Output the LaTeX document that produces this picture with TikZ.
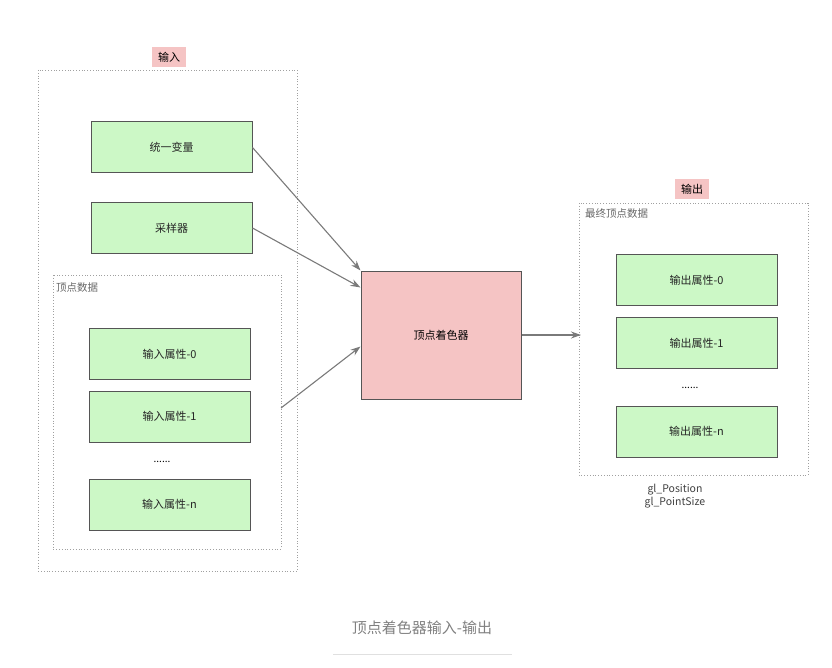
\documentclass[tikz,border=0pt]{standalone}
\usepackage{fontspec}
\setmainfont{Noto Sans CJK SC}
\usetikzlibrary{arrows.meta,calc}
\definecolor{gfill}{HTML}{CCF8C6}
\definecolor{pfill}{HTML}{F5C4C4}
\definecolor{edge}{HTML}{555555}
\definecolor{arr}{HTML}{7A7A7A}
\definecolor{dots}{HTML}{A0A0A0}
\tikzset{
  gbox/.style={draw=edge, line width=1pt, fill=gfill, minimum width=161pt, minimum height=51pt, inner sep=0pt, font=\fontsize{11}{13}\selectfont, text=black!85},
  frame/.style={draw=dots, dotted, line width=0.8pt},
  tag/.style={fill=pfill, inner xsep=6pt, inner ysep=5pt, font=\fontsize{11}{13}\selectfont},
  lbl/.style={anchor=north west, inner sep=0pt, font=\fontsize{10.5}{12}\selectfont, text=black!60},
  conn/.style={draw=arr, line width=1.1pt, -{Stealth[length=10pt,width=7pt]}}
}
\begin{document}
\begin{tikzpicture}[x=1pt,y=-1pt]
\useasboundingbox (0,0) rectangle (832,668);
% input frame
\draw[frame] (38,70) rectangle (297,571);
\node[tag] (tin) at (169,57) {输入};
\node[gbox] (u) at (171.5,147.5) {统一变量};
\node[gbox] (s) at (171.5,228) {采样器};
\draw[frame] (53,275) rectangle (281,549);
\node[lbl] (vd) at (56,282) {顶点数据};
\node[gbox] (a0) at (169.5,354) {输入属性-0};
\node[gbox] (a1) at (169.5,416.5) {输入属性-1};
\node (adots) at (162,462) {\fontsize{10}{11}\selectfont ......};
\node[gbox] (an) at (169.5,504.5) {输入属性-n};
\coordinate (c1) at (281,408);
% shader
\node[draw=edge, line width=1pt, fill=pfill, minimum width=160pt, minimum height=128pt, inner sep=0pt, font=\fontsize{11}{13}\selectfont] (vs) at (441,335) {顶点着色器};
% output frame
\draw[frame] (579,203) rectangle (808,475);
\node[tag] (tout) at (692,189) {输出};
\node[lbl] (fd) at (585,208) {最终顶点数据};
\node[gbox] (o0) at (696.5,280) {输出属性-0};
\node[gbox] (o1) at (696.5,343) {输出属性-1};
\node (odots) at (690,388) {\fontsize{10}{11}\selectfont ......};
\node[gbox] (on) at (696.5,431.5) {输出属性-n};
\node[font=\fontsize{10.5}{12}\selectfont, text=black!75, align=center, inner sep=0pt] (gl) at (675,496) {gl\_Position\\[1pt]gl\_PointSize};
\coordinate (oin) at (581,335);
% connectors
\draw[conn] (u.east) -- (vs.north west);
\draw[conn] (s.east) -- ($(vs.north west)+(0,17)$);
\draw[conn] (c1) -- ($(vs.north west)+(0,76)$);
\draw[conn] (vs.east) -- (oin);
% caption
\node[font=\fontsize{15}{17}\selectfont, text=black!50] (cap) at (422,628) {顶点着色器输入-输出};
\draw[draw=black!12, line width=0.8pt] (333,654) -- (512,654);
\end{tikzpicture}
\end{document}
